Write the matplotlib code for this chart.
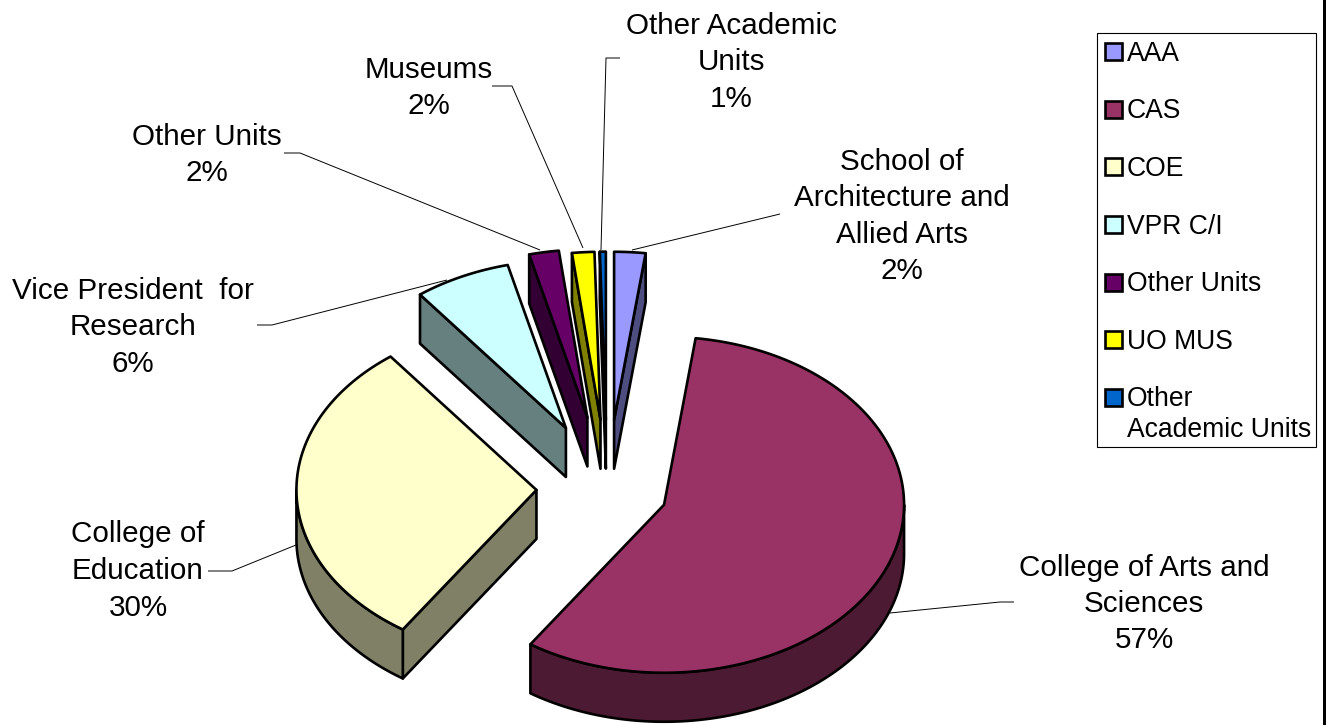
import numpy as np
import matplotlib
matplotlib.use('Agg')
import matplotlib.pyplot as plt
from matplotlib.patches import Polygon, Rectangle

plt.rcParams['font.family'] = ['Liberation Sans', 'DejaVu Sans']

# data, clockwise from twelve o'clock
shares = [2.1, 57.3, 30.2, 6.5, 2.0, 1.5, 0.4]
pct_labels = ['2%', '57%', '30%', '6%', '2%', '2%', '1%']
names = [
    ['School of', 'Architecture and', 'Allied Arts'],
    ['College of Arts and', 'Sciences'],
    ['College of', 'Education'],
    ['Vice President  for', 'Research'],
    ['Other Units'],
    ['Museums'],
    ['Other Academic', 'Units'],
]
legend_names = ['AAA', 'CAS', 'COE', 'VPR C/I', 'Other Units', 'UO MUS', 'Other\nAcademic Units']
colors = ['#9999FF', '#993366', '#FFFFCC', '#CCFFFF', '#660066', '#FFFF00', '#0066CC']
side_colors = ['#4D4D80', '#4D1A33', '#808066', '#668080', '#330033', '#808000', '#003366']

# layout
explode = [0.41, 0.2737, 0.2737, 0.40, 0.43, 0.41, 0.41]
nudge_x = [5, 0, -0.5, 5, 3.5, 5, 4.5]
cx, cy = 602.6, 488.5
rx, ry, depth = 240, 168, 49
label_x = [902, 1144, 138, 133, 207, 429, 731]
label_y = [160, 566, 533, 289, 135, 68, 24]
line_h = 36.5
leaders = [
    [(780, 214), (632, 250)],
    [(1014, 602), (1000, 602), (890, 613)],
    [(208, 571), (232, 571), (296, 545)],
    [(257, 325), (272, 325), (447, 280)],
    [(284, 153), (300, 153), (540, 250)],
    [(492, 86), (512, 86), (583, 248)],
    [(620, 58), (606, 58), (601, 250)],
]
lw = 1.9
fs = 21.3


def rim_pts(x0, y0, t0, t1):
    t = np.radians(np.linspace(t0, t1, max(int(abs(t1 - t0) * 2), 2)))
    return np.column_stack([x0 + rx * np.sin(t), y0 - ry * np.cos(t)])


fig = plt.figure(figsize=(13.26, 7.25), dpi=100)
ax = fig.add_axes([0, 0, 1, 1])
ax.set_xlim(0, 1326)
ax.set_ylim(725, 0)
ax.axis('off')

edges = np.cumsum([0] + shares) / sum(shares) * 360

for i in range(len(shares)):
    t0, t1 = edges[i], edges[i + 1]
    mid = np.radians((t0 + t1) / 2)
    x0 = cx + rx * explode[i] * np.sin(mid) + nudge_x[i]
    y0 = cy - ry * explode[i] * np.cos(mid)
    apex = np.array([x0, y0])
    down = np.array([0, depth])
    style = dict(edgecolor='black', linewidth=lw, joinstyle='round')

    # cut faces that look at the viewer
    for t, show in [(t0, np.sin(np.radians(t0)) < 0), (t1, np.sin(np.radians(t1)) > 0)]:
        if show and not (t == t0 and t0 == 0):
            end = rim_pts(x0, y0, t, t)[0]
            ax.add_patch(Polygon([apex, end, end + down, apex + down], closed=True,
                                 facecolor=side_colors[i], **style))

    # outer wall, front half of the ellipse only
    a, b = max(t0, 90), min(t1, 270)
    if a < b:
        arc = rim_pts(x0, y0, a, b)
        ax.add_patch(Polygon(np.vstack([arc, arc[::-1] + down]), closed=True,
                             facecolor=side_colors[i], **style))

    # top face
    top = np.vstack([apex, rim_pts(x0, y0, t0, t1)])
    ax.add_patch(Polygon(top, closed=True, facecolor=colors[i], **style))

# leader lines
for pts in leaders:
    xs, ys = zip(*pts)
    ax.plot(xs, ys, color='black', lw=0.7, solid_capstyle='butt', zorder=5)

# data labels
for i in range(len(shares)):
    lines = names[i] + [pct_labels[i]]
    for j, line in enumerate(lines):
        ax.text(label_x[i], label_y[i] + 1.5 + j * line_h, line, fontsize=fs, ha='center',
                va='center', color='black', zorder=6)

# legend box
ax.add_patch(Rectangle((1097, 33), 219, 414, facecolor='white', edgecolor='black', linewidth=0.8))
key_step = 57.6
for i, name in enumerate(legend_names):
    yc = 51.7 + i * key_step
    ax.add_patch(Rectangle((1104.5, yc - 8.5), 17, 17, facecolor=colors[i], edgecolor='black', linewidth=1.9))
    for j, line in enumerate(name.split('\n')):
        ax.text(1127, yc + 2 + j * 30.5, line, fontsize=19.1, ha='left', va='center', color='black')

# chart area border on the right
ax.add_patch(Rectangle((1323, 0), 3, 725, facecolor='black', edgecolor='none'))

fig.savefig('out.png', dpi=100)
